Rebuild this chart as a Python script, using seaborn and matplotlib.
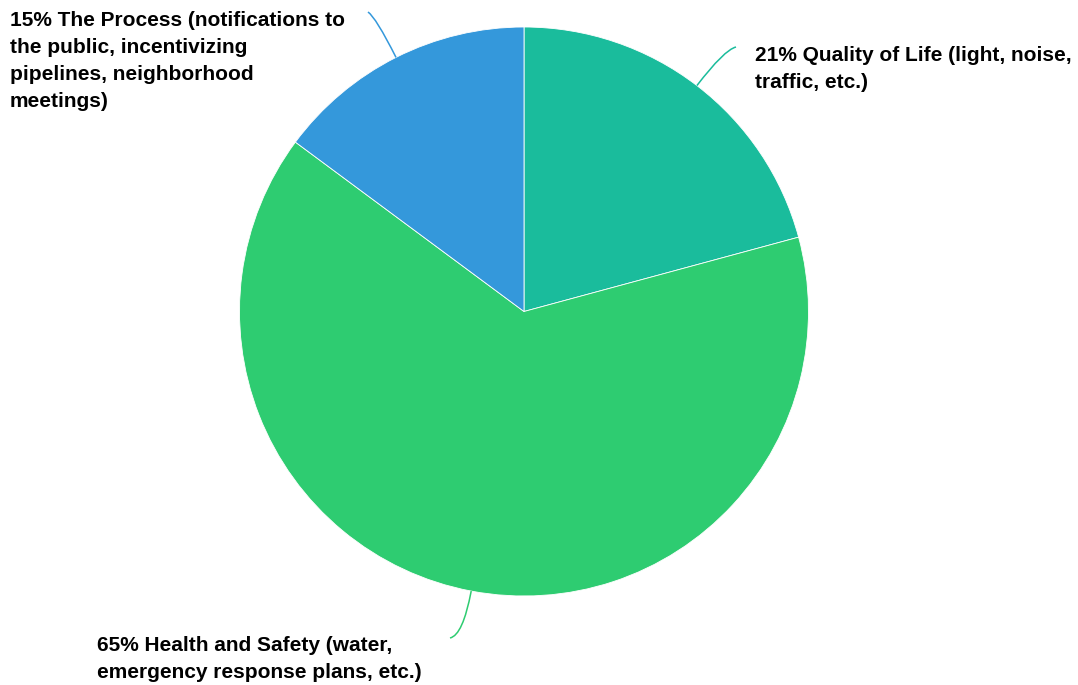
import numpy as np
import matplotlib
matplotlib.use("Agg")
import matplotlib.pyplot as plt
from matplotlib.path import Path
from matplotlib.patches import PathPatch
import seaborn as sns

# Survey shares by topic (percent)
categories = [
    "Quality of Life (light, noise,\ntraffic, etc.)",
    "Health and Safety (water,\nemergency response plans, etc.)",
    "The Process (notifications to\nthe public, incentivizing\npipelines, neighborhood\nmeetings)",
]
values = [21, 65, 15]
palette = ["#1abc9c", "#2ecc71", "#3498db"]

sns.set_theme(style="white")
plt.rcParams["font.family"] = ["Liberation Sans", "DejaVu Sans"]

W, H = 1078, 685
fig = plt.figure(figsize=(W / 100, H / 100), dpi=100)
ax = fig.add_axes([0, 0, 1, 1])

cx, cy, r = 524, H - 311.5, 284.5
wedges, _ = ax.pie(
    values,
    colors=palette,
    startangle=90,
    counterclock=False,
    center=(cx, cy),
    radius=r,
    wedgeprops=dict(edgecolor="white", linewidth=0.6),
    frame=True,
)
ax.set_xlim(0, W)
ax.set_ylim(0, H)
ax.set_aspect("equal")
ax.axis("off")

# label anchors (end of leader line) and text placement
anchors = [(736, H - 47), (450, H - 638), (368, H - 12)]
text_pos = [(755, H - 46), (97, H - 636), (10, H - 11)]

for w, val, cat, col, (ex, ey), (tx, ty) in zip(
    wedges, values, categories, palette, anchors, text_pos
):
    mid = np.deg2rad((w.theta1 + w.theta2) / 2)
    sx, sy = cx + r * np.cos(mid), cy + r * np.sin(mid)
    kx, ky = cx + (r + 45) * np.cos(mid), cy + (r + 45) * np.sin(mid)
    path = Path([(sx, sy), (kx, ky), (ex, ey)],
                [Path.MOVETO, Path.CURVE3, Path.CURVE3])
    ax.add_patch(PathPatch(path, fill=False, edgecolor=col, lw=1.1))
    ax.text(tx, ty, f"{val}% {cat}", ha="left", va="top",
            fontsize=15, fontweight="bold", color="#000000",
            linespacing=1.53)

fig.savefig("out.png", dpi=100)
